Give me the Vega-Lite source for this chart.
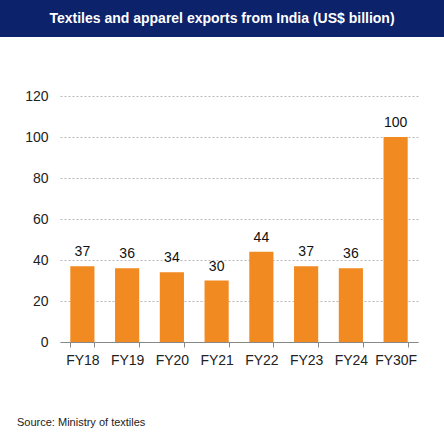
{
  "$schema": "https://vega.github.io/schema/vega-lite/v6.json",
  "padding": 0,
  "background": "white",
  "spacing": 52,
  "config": {"font": "Liberation Sans", "view": {"stroke": null}},
  "vconcat": [
    {
      "width": 444,
      "height": 37,
      "view": {"fill": "#0c226a", "stroke": null},
      "data": {"values": [{"t": "Textiles and apparel exports from India (US$ billion)"}]},
      "mark": {"type": "text", "color": "white", "fontWeight": "bold", "fontSize": 14, "font": "Liberation Sans"},
      "encoding": {"text": {"field": "t"}}
    },
    {
      "width": 418,
      "height": 246,
      "title": {"text": "Source: Ministry of textiles", "orient": "bottom", "anchor": "start", "frame": "bounds", "fontSize": 11, "fontWeight": "normal", "color": "#222", "offset": 50, "dx": 17},
      "data": {"values": [
        {"fy": "FY18", "v": 37},
        {"fy": "FY19", "v": 36},
        {"fy": "FY20", "v": 34},
        {"fy": "FY21", "v": 30},
        {"fy": "FY22", "v": 44},
        {"fy": "FY23", "v": 37},
        {"fy": "FY24", "v": 36},
        {"fy": "FY30F", "v": 100}
      ]},
      "encoding": {
        "x": {"field": "fy", "type": "nominal", "sort": null,
          "scale": {"paddingInner": 0.46, "paddingOuter": 0.23, "range": [60, 418]},
          "axis": {"title": null, "labelAngle": 0, "domainColor": "#888", "tickColor": "#888", "tickSize": 5, "tickBand": "extent", "labelPadding": 6, "labelFontSize": 14, "labelColor": "#222", "grid": false}},
        "y": {"field": "v", "type": "quantitative", "scale": {"domain": [0, 120]},
          "axis": {"title": null, "values": [0, 20, 40, 60, 80, 100, 120], "domain": false, "ticks": false, "tickSize": 0, "labelPadding": -48, "labelAlign": "right", "labelFontSize": 14, "labelColor": "#222", "grid": true, "gridColor": "#bbb", "gridDash": [2, 2]}}
      },
      "layer": [
        {"mark": {"type": "bar", "color": "#f28a22"}},
        {"mark": {"type": "text", "baseline": "alphabetic", "dy": -10, "fontSize": 14, "color": "#111"}, "encoding": {"text": {"field": "v"}}}
      ]
    }
  ]
}
